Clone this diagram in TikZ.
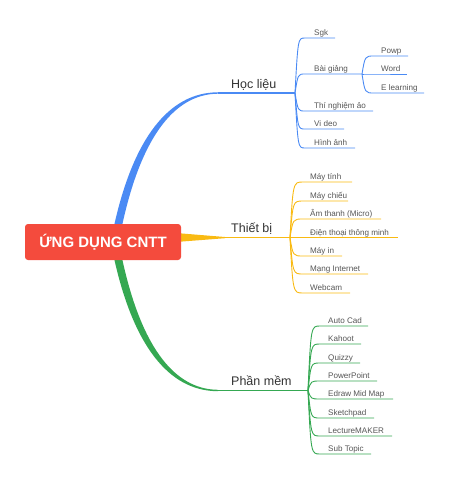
\documentclass[tikz,border=0pt]{standalone}
\usepackage{fontspec}
\setmainfont{Liberation Sans}
\definecolor{cred}{HTML}{F44B3D}
\definecolor{cblue}{HTML}{4A8AF4}
\definecolor{cyellow}{HTML}{F9BA12}
\definecolor{cgreen}{HTML}{35A852}
\definecolor{subgray}{HTML}{555555}
\definecolor{maingray}{HTML}{333333}
\pgfdeclarelayer{bg}
\pgfsetlayers{bg,main}
\begin{document}
\begin{tikzpicture}[x=1pt,y=-1pt,
  sub/.style={font=\fontsize{8.1}{9}\selectfont, text=subgray, anchor=base west, inner sep=0pt},
  mainlbl/.style={font=\fontsize{12.5}{14}\selectfont, text=maingray, anchor=base west, inner sep=0pt},
  rootbox/.style={fill=cred, rounded corners=3pt, minimum width=156pt, minimum height=36pt, inner sep=0pt,
    text=white, font=\bfseries\fontsize{15}{18}\selectfont},
  subline/.style={line width=0.9pt},
  mainline/.style={line width=1.3pt}]
\useasboundingbox (0,0) rectangle (450,480);

% root
\node[rootbox] (root) at (103,242) {ỨNG DỤNG CNTT};

% main labels
\node[mainlbl] (hoclieu) at (231,88) {Học liệu};
\node[mainlbl] (thietbi) at (231,232.5) {Thiết bị};
\node[mainlbl] (phanmem) at (231,385.5) {Phần mềm};

\coordinate (hl) at (218,93);
\coordinate (hlj) at (295,93);
\coordinate (tb) at (218,237.6);
\coordinate (tbj) at (290,237.6);
\coordinate (pm) at (218,390.5);
\coordinate (pmj) at (308,390.5);
\coordinate (bgj) at (362,74);

\begin{pgfonlayer}{bg}
% blue branch
\fill[cblue] (114,226) .. controls (133,140) and (168,92.3) .. (218,92.3) -- (218,93.7)
  .. controls (172,94) and (140,142) .. (122,226) -- cycle;
\draw[cblue, mainline] (hl) -- (hlj);
% yellow branch
\fill[cyellow] (176,233) -- (225,237) -- (225,238.2) -- (176,242) -- cycle;
\draw[cyellow, mainline] (tb) -- (tbj);
% green branch
\fill[cgreen] (114,258) .. controls (133,344) and (168,391.2) .. (218,391.2) -- (218,389.8)
  .. controls (172,389.5) and (140,342) .. (122,258) -- cycle;
\draw[cgreen, mainline] (pm) -- (pmj);
\end{pgfonlayer}

% Hoc lieu subtopics
\foreach \t/\y/\e [count=\i] in {Sgk/38/335, Bài giảng/74/362, Thí nghiệm ảo/111/373, Vi deo/129/344, Hình ảnh/148/355} {
  \node[sub] (hls\i) at (314,\y-2.6) {\t};
  \coordinate (hle\i) at (\e,\y);
  \draw[cblue, subline] (hlj) .. controls (298,\y) .. (305,\y) -- (hle\i);
}
% Bai giang subtopics
\foreach \t/\y/\e [count=\i] in {Powp/56/408, Word/74/407, E learning/93/424} {
  \node[sub] (bgs\i) at (381,\y-2.6) {\t};
  \coordinate (bge\i) at (\e,\y);
  \draw[cblue, subline] (bgj) .. controls (365,\y) .. (374,\y) -- (bge\i);
}
% Thiet bi subtopics
\foreach \t/\y/\e [count=\i] in {Máy tính/182/352, Máy chiếu/201/348, Âm thanh (Micro)/219/381, Điện thoại thông minh/237.6/398, Máy in/256/342, Mạng Internet/274/368, Webcam/293/350} {
  \node[sub] (tbs\i) at (310,\y-2.6) {\t};
  \coordinate (tbe\i) at (\e,\y);
  \draw[cyellow, subline] (tbj) .. controls (293,\y) .. (303,\y) -- (tbe\i);
}
% Phan mem subtopics
\foreach \t/\y/\e [count=\i] in {Auto Cad/326/368, Kahoot/344/361, Quizzy/363/360, PowerPoint/381/377, Edraw Mid Map/399/393, Sketchpad/418/374, LectureMAKER/436/392, Sub Topic/454/371} {
  \node[sub] (pms\i) at (328,\y-2.6) {\t};
  \coordinate (pme\i) at (\e,\y);
  \draw[cgreen, subline] (pmj) .. controls (311,\y) .. (320,\y) -- (pme\i);
}
\end{tikzpicture}
\end{document}
